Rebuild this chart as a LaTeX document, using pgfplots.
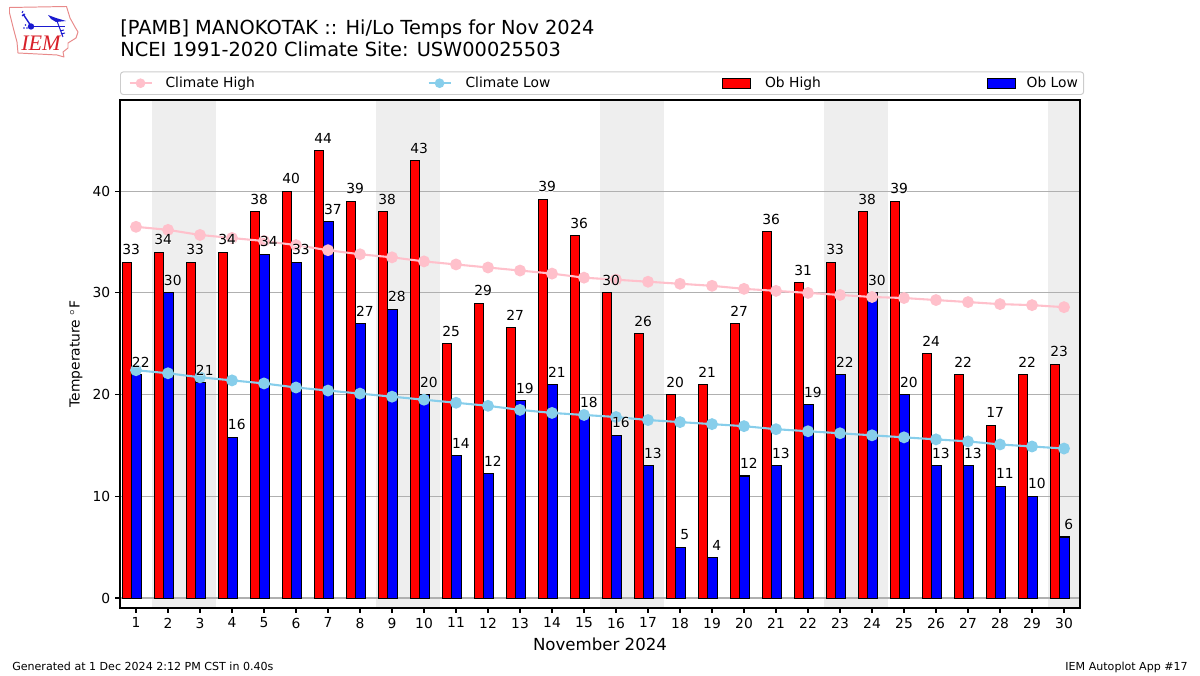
\documentclass[border=0pt]{standalone}
\usepackage{pgfplots}
\usepackage{pgfplotstable}
\usepackage{fontspec}
\pgfplotsset{compat=1.18}
\setmainfont{DejaVu Sans}
\newfontfamily\halofont[FakeBold=3]{DejaVu Sans}
\newfontfamily\logofont{Liberation Serif}[ItalicFont=* Italic]
\definecolor{climhi}{HTML}{FFC0CB}
\definecolor{climlo}{HTML}{87CEEB}
\definecolor{wkend}{HTML}{EEEEEE}
\definecolor{gridc}{HTML}{B0B0B0}
\definecolor{legc}{HTML}{CCCCCC}
\definecolor{logor}{HTML}{E88A8A}
\definecolor{logot}{HTML}{D8202A}
\definecolor{logob}{HTML}{1A1AD0}
\newcommand\hl[1]{\leavevmode\rlap{\color{white}\halofont #1}#1}
\newlength\px \setlength\px{0.72bp}
\pgfplotstableread{
d hi hil lo lol chi clo
1 33 33 22 22 36.5 22.4
2 34 34 30 30 36.2 22.1
3 33 33 21.2 21 35.7 21.7
4 34 34 15.8 16 35.4 21.4
5 38 38 33.8 34 35.1 21.1
6 40 40 33 33 34.7 20.7
7 44 44 37 37 34.2 20.4
8 39 39 27 27 33.8 20.1
9 38 38 28.4 28 33.5 19.8
10 43 43 20 20 33.1 19.5
11 25 25 14 14 32.8 19.2
12 29 29 12.2 12 32.5 18.9
13 26.6 27 19.4 19 32.2 18.5
14 39.2 39 21 21 31.9 18.2
15 35.6 36 18 18 31.5 18.0
16 30 30 16 16 31.3 17.8
17 26 26 13 13 31.1 17.5
18 20 20 5 5 30.9 17.3
19 21 21 4 4 30.7 17.1
20 27 27 12 12 30.4 16.9
21 36 36 13 13 30.2 16.6
22 31 31 19 19 30.0 16.4
23 33 33 22 22 29.8 16.2
24 38 38 30 30 29.6 16.0
25 39 39 20 20 29.5 15.8
26 24 24 13 13 29.3 15.6
27 22 22 13 13 29.1 15.4
28 17 17 11 11 28.9 15.1
29 22 22 10 10 28.8 14.9
30 23 23 6 6 28.6 14.7
}\datatable
\begin{document}
\begin{tikzpicture}[x=0.72bp,y=0.72bp]
\path (0,0) rectangle (1200,675);
% logo
\begin{scope}[shift={(0,675)},y=-0.72bp]
\draw[logor,line width=0.7bp,line join=round] (9.5,7.5)--(66.5,6.5)--(70,18)--(75,27)--(78,32)--(76,38)--(68,43)--(68,48)--(63,52)--(64,57)--(57,55)--(18,53)--(17,42)--(13,27)--(9.5,13)--cycle;
\draw[logob,line width=1bp] (31,26.5)--(65,26.5);
\fill[logob] (31,26.5) circle (3.2);
\draw[logob,line width=1bp] (31,26)--(23,14);
\draw[logob,line width=0.7bp] (22,13)--(23,11)(22,16)--(25,14);
\fill[logob] (48,15)--(56,18)--(66,21)--(56,22)--(51,19)--cycle;
\draw[logob,line width=0.7bp] (57,21)--(63,37)(60,31)--(64,30)(61,34)--(65,33);
\fill[logob] (24,28) circle (0.9) (27,28) circle (0.9) (25.5,25) circle (0.9);
\node[anchor=base west,inner sep=0,text=logot,font=\logofont\itshape\fontsize{16}{16}\selectfont] at (21,51) {IEM};
\end{scope}
% titles and footers
\node[anchor=base west,inner sep=0,font=\fontsize{14}{14}\selectfont] at (120,675-35) {[PAMB] MANOKOTAK :: Hi/Lo Temps for Nov 2024};
\node[anchor=base west,inner sep=0,font=\fontsize{14}{14}\selectfont] at (120,675-57) {NCEI 1991-2020 Climate Site: USW00025503};
\node[anchor=base west,inner sep=0,font=\fontsize{8}{8}\selectfont] at (12,675-670) {Generated at 1 Dec 2024 2:12 PM CST in 0.40s};
\node[anchor=base east,inner sep=0,font=\fontsize{8}{8}\selectfont] at (1188,675-670) {IEM Autoplot App \#17};
\begin{axis}[
  at={(120\px,67\px)},anchor=south west,
  scale only axis,width=960\px,height=508\px,
  x=,y=,
  set layers=standard,
  xmin=0.5,xmax=30.5,ymin=-0.98,ymax=48.97,
  xtick={1,...,30},ytick={0,10,20,30,40},
  xtick pos=bottom,ytick pos=left,
  tick align=outside,major tick length=3.5bp,
  every tick/.style={black,line width=0.8bp},
  axis line style={black,line width=0.8bp},
  ymajorgrids,grid style={gridc,line width=0.8bp},
  /pgf/number format/assume math mode=true,
  tick label style={font=\fontsize{10}{12}\selectfont},
  xlabel={November 2024},ylabel={Temperature $^\circ$F},
  every axis x label/.style={at={(axis description cs:0.5,-0.0709)},anchor=center,font=\fontsize{12}{12}\selectfont},
  every axis y label/.style={at={(axis description cs:-0.0458,0.5)},anchor=center,rotate=90,font=\fontsize{10}{12}\selectfont},
  legend columns=4,
  legend cell align=left,
  legend style={at={(axis description cs:0,1)},anchor=south west,yshift=5\px,draw=legc,line width=0.7bp,rounded corners=2bp,
    inner xsep=8\px,inner ysep=5\px,
    nodes={inner sep=0pt,font=\fontsize{10}{12}\selectfont},
    /tikz/column sep=0pt},
]
\addlegendimage{legend image code/.code={\path[draw=none,fill=none] (0,-5\px) rectangle (36\px,5\px);\draw[climhi,fill=none,sharp corners,line width=1.5bp] (0,0)--(22\px,0);\fill[climhi,draw=none] (11\px,0) circle (3.5bp);}}
\addlegendentry{\makebox[262\px][l]{Climate High}}
\addlegendimage{legend image code/.code={\path[draw=none,fill=none] (0,-5\px) rectangle (37\px,5\px);\draw[climlo,fill=none,sharp corners,line width=1.5bp] (0,0)--(22\px,0);\fill[climlo,draw=none] (11\px,0) circle (3.5bp);}}
\addlegendentry{\makebox[256\px][l]{Climate Low}}
\addlegendimage{legend image code/.code={\path[draw=none,fill=none] (0,-5\px) rectangle (43\px,5\px);\draw[black,fill=red,sharp corners,line width=0.75bp] (0,-5\px) rectangle (28\px,5\px);}}
\addlegendentry{\makebox[222\px][l]{Ob High}}
\addlegendimage{legend image code/.code={\path[draw=none,fill=none] (0,-5\px) rectangle (39\px,5\px);\draw[black,fill=blue,sharp corners,line width=0.75bp] (0,-5\px) rectangle (28\px,5\px);}}
\addlegendentry{\makebox[49\px][l]{Ob Low}}
% weekend bands
\addplot[on layer=axis background,fill=wkend,draw=none,forget plot] coordinates {(1.5,-0.98)(3.5,-0.98)(3.5,48.97)(1.5,48.97)} --cycle;
\addplot[on layer=axis background,fill=wkend,draw=none,forget plot] coordinates {(8.5,-0.98)(10.5,-0.98)(10.5,48.97)(8.5,48.97)} --cycle;
\addplot[on layer=axis background,fill=wkend,draw=none,forget plot] coordinates {(15.5,-0.98)(17.5,-0.98)(17.5,48.97)(15.5,48.97)} --cycle;
\addplot[on layer=axis background,fill=wkend,draw=none,forget plot] coordinates {(22.5,-0.98)(24.5,-0.98)(24.5,48.97)(22.5,48.97)} --cycle;
\addplot[on layer=axis background,fill=wkend,draw=none,forget plot] coordinates {(29.5,-0.98)(30.5,-0.98)(30.5,48.97)(29.5,48.97)} --cycle;
% bars
\addplot[ybar,bar width=0.295,bar shift=-0.28,draw=black,fill=red,line width=0.75bp,forget plot] table[x=d,y=hi] {\datatable};
\addplot[ybar,bar width=0.3,bar shift=0.015,draw=black,fill=blue,line width=0.75bp,forget plot] table[x=d,y=lo] {\datatable};
% climate
\addplot[climhi,line width=1.5bp,mark=*,mark size=3.5bp,mark options={solid,fill=climhi,draw=climhi},forget plot] table[x=d,y=chi] {\datatable};
\addplot[climlo,line width=1.5bp,mark=*,mark size=3.5bp,mark options={solid,fill=climlo,draw=climlo},forget plot] table[x=d,y=clo] {\datatable};
% value labels
\addplot[draw=none,mark=none,forget plot,point meta=explicit symbolic,
  nodes near coords={\hl{\pgfplotspointmeta}},
  nodes near coords style={anchor=south,inner sep=0pt,yshift=7\px,font=\fontsize{10}{12}\selectfont,text=black}]
  table[x expr=\thisrow{d}-0.15,y=hi,meta=hil] {\datatable};
\addplot[draw=none,mark=none,forget plot,point meta=explicit symbolic,
  nodes near coords={\hl{\pgfplotspointmeta}},
  nodes near coords style={anchor=south,inner sep=0pt,yshift=7\px,font=\fontsize{10}{12}\selectfont,text=black}]
  table[x expr=\thisrow{d}+0.15,y=lo,meta=lol] {\datatable};
\end{axis}
\end{tikzpicture}
\end{document}
